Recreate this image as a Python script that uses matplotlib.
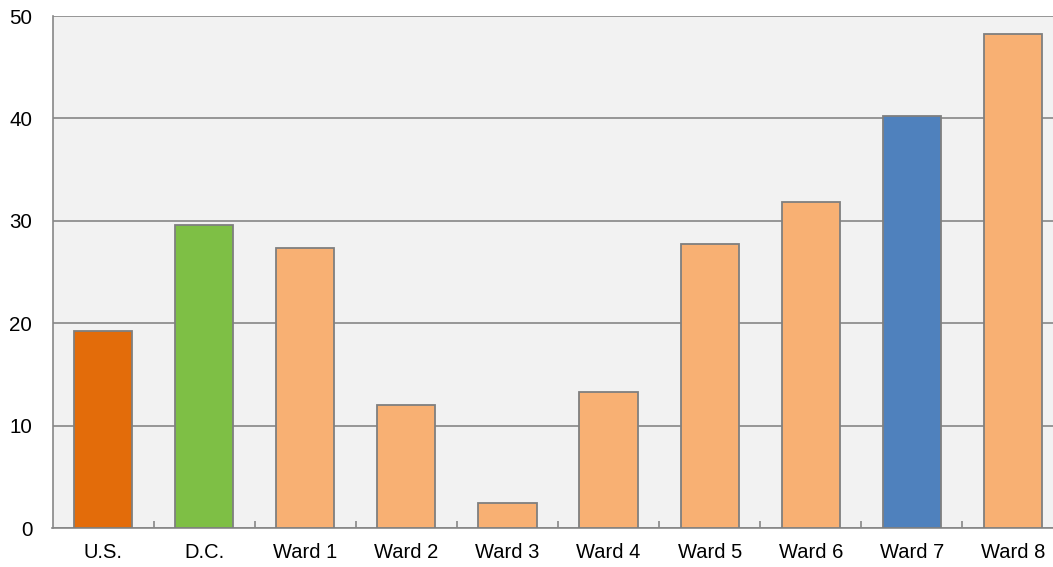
import matplotlib
matplotlib.use("Agg")
import matplotlib.pyplot as plt
import numpy as np

plt.rcParams['font.family'] = ['Liberation Sans', 'DejaVu Sans']

# Data
categories = ["U.S.", "D.C.", "Ward 1", "Ward 2", "Ward 3",
              "Ward 4", "Ward 5", "Ward 6", "Ward 7", "Ward 8"]
values = [19.2, 29.6, 27.3, 12.0, 2.4, 13.3, 27.7, 31.8, 40.2, 48.2]
bar_colors = ["#E36C0A", "#7EBF45", "#F8B073", "#F8B073", "#F8B073",
              "#F8B073", "#F8B073", "#F8B073", "#4F81BD", "#F8B073"]
yticks = [0, 10, 20, 30, 40, 50]

W, H = 1053, 567
fig = plt.figure(figsize=(W / 100, H / 100), dpi=100)
# plot area runs a bit past the right edge of the image, as in the original
ax = fig.add_axes([52.5 / W, (H - 528) / H, 1011 / W, (528 - 16) / H])
ax.set_facecolor("#F2F2F2")

x = np.arange(len(categories))
ax.bar(x, values, width=0.575, color=bar_colors, edgecolor="#7F7F7F",
       linewidth=1.3, zorder=3)

ax.set_xlim(-0.5, len(categories) - 0.5)
ax.set_ylim(0, 50)
ax.set_yticks(yticks)
ax.yaxis.grid(True, color="#878787", linewidth=1.2, zorder=1)
ax.tick_params(axis="y", length=0, pad=14.5, labelsize=14.8)

ax.set_xticks(x)
ax.set_xticklabels(categories)
ax.tick_params(axis="x", length=0, pad=11, labelsize=14.5)
# small separators between categories
ax.set_xticks(np.arange(0.5, len(categories) - 0.5, 1), minor=True)
ax.tick_params(axis="x", which="minor", direction="in", length=5,
               color="#878787", width=1.2)

for side in ["top", "right"]:
    ax.spines[side].set_visible(False)
ax.spines["left"].set_color("#878787")
ax.spines["bottom"].set_color("#878787")
ax.spines["left"].set_linewidth(1.2)
ax.spines["bottom"].set_linewidth(1.2)

fig.savefig("out.png", dpi=100)
